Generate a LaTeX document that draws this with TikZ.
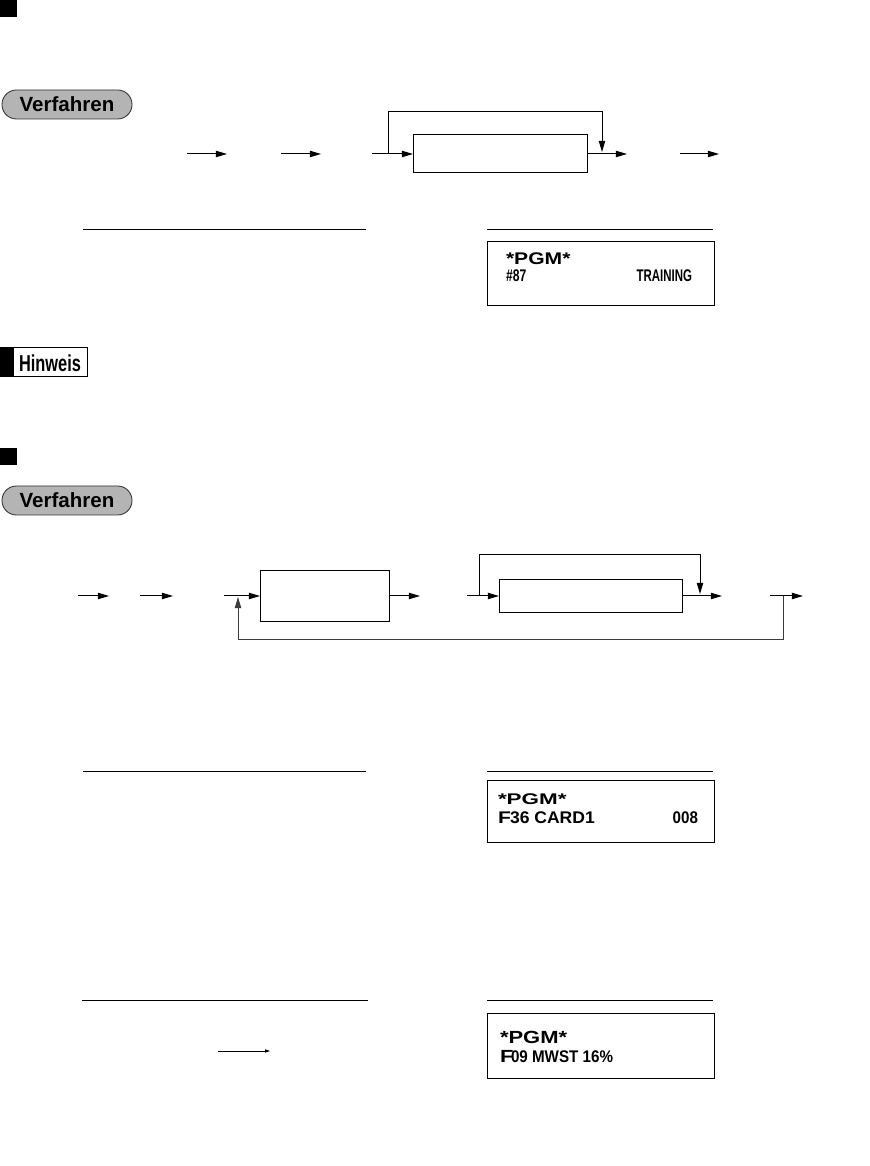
\documentclass[tikz,border=0pt]{standalone}
\usepackage{fontspec}
\setmainfont{Liberation Sans}
\usetikzlibrary{arrows.meta}

\definecolor{pgmInk}{RGB}{0,0,0}
\definecolor{pgmPill}{RGB}{180,180,180}
\definecolor{pgmEdge}{RGB}{50,50,50}
\definecolor{pgmBack}{RGB}{60,60,60}

\newcommand{\lcdwide}[2]{\scalebox{#1}[1]{\fontsize{12}{13}\selectfont\bfseries #2}}
\newcommand{\lcdhead}[3]{\scalebox{#1}[1]{\fontsize{#2}{13}\selectfont\bfseries #3}}

\begin{document}
\begin{tikzpicture}[x=0.25mm,y=0.25mm,inner sep=0pt,outer sep=0pt,line width=0.7pt,
  flow/.style={-{Triangle[length=2.8mm,width=1.6mm]}},
  thinflow/.style={line width=0.5pt,-{Triangle[length=1.2mm,width=0.8mm]}},
  pill/.style={draw=pgmEdge,fill=pgmPill,line width=0.6pt,rounded corners=3.6mm,minimum width=32.5mm,minimum height=7.25mm,font=\fontsize{14.6}{16}\selectfont\bfseries},
  keybox/.style={draw,rectangle},
  lcdbox/.style={draw,rectangle,minimum width=56.75mm}]
\useasboundingbox (0,0) rectangle (870,1166);

% first section
\fill[pgmInk] (0,1149) rectangle (17,1166);
\node[pill] (procA) at (67,1061.5) {Verfahren};

\coordinate (r1a) at (187,1012); \coordinate (r1b) at (227,1012);
\coordinate (r1c) at (281,1012); \coordinate (r1d) at (321,1012);
\coordinate (r1in) at (372,1012); \coordinate (r1fork) at (388,1012);
\coordinate (r1out) at (627,1012); \coordinate (r1join) at (602,1014);
\coordinate (r1e) at (680,1012); \coordinate (r1f) at (719,1012);
\node[keybox,minimum width=43.5mm,minimum height=9.5mm] (r1box) at (500,1012) {};
\draw[flow] (r1a) -- (r1b);
\draw[flow] (r1c) -- (r1d);
\draw[flow] (r1in) -- (r1box.west);
\draw[flow] (r1fork) -- ++(0,42) -| (r1join);
\draw[flow] (r1box.east) -- (r1out);
\draw[flow] (r1e) -- (r1f);

\coordinate (ruleAl) at (83,936); \coordinate (ruleAr) at (366,936);
\coordinate (ruleBl) at (487,936); \coordinate (ruleBr) at (713,936);
\draw (ruleAl) -- (ruleAr);
\draw (ruleBl) -- (ruleBr);
\node[lcdbox,minimum height=16mm] (lcdA) at (600.5,892) {};
\node[anchor=base west] (pgmA) at (506,901) {\lcdhead{1.25}{12}{*PGM*}};
\node[anchor=base west] (lineAl) at (506,884) {\lcdwide{0.72}{\#87}};
\node[anchor=base east] (lineAr) at (692,884) {\lcdwide{0.68}{TRAINING}};

% note
\node[draw,minimum width=21.75mm,minimum height=7.25mm] (note) at (43.5,803.5) {};
\fill[pgmInk] (note.north west) rectangle ++(3.5mm,-7.25mm);
\node[anchor=base] (noteText) at (50,794) {\scalebox{0.71}[1]{\fontsize{16.4}{18}\selectfont\bfseries Hinweis}};

% second section
\fill[pgmInk] (0,701) rectangle (17,718);
\node[pill] (procB) at (67,665.5) {Verfahren};

\coordinate (r2a) at (78,570); \coordinate (r2b) at (109,570);
\coordinate (r2c) at (140,570); \coordinate (r2d) at (173,570);
\coordinate (r2in) at (224,570); \coordinate (r2join) at (238,569);
\coordinate (r2mid) at (420,570);
\coordinate (r2in2) at (467,570); \coordinate (r2skip) at (479,570);
\coordinate (r2land) at (700,572); \coordinate (r2out) at (722,570);
\coordinate (r2e) at (770,570); \coordinate (r2f) at (803,570);
\coordinate (r2fork) at (783,570);
\node[keybox,minimum width=32.25mm,minimum height=12.5mm] (r2boxA) at (324.5,570) {};
\node[keybox,minimum width=45.75mm,minimum height=8.25mm] (r2boxB) at (590.5,570) {};
\draw[flow] (r2a) -- (r2b);
\draw[flow] (r2c) -- (r2d);
\draw[flow] (r2in) -- (r2boxA.west);
\draw[flow] (r2boxA.east) -- (r2mid);
\draw[flow] (r2in2) -- (r2boxB.west);
\draw[flow] (r2skip) -- ++(0,41) -| (r2land);
\draw[flow] (r2boxB.east) -- (r2out);
\draw[flow] (r2e) -- (r2f);
\draw[flow,draw=pgmBack] (r2fork) -- ++(0,-43) -| (r2join);

\coordinate (ruleCl) at (83,395); \coordinate (ruleCr) at (366,395);
\coordinate (ruleDl) at (487,395); \coordinate (ruleDr) at (713,395);
\draw (ruleCl) -- (ruleCr);
\draw (ruleDl) -- (ruleDr);
\node[lcdbox,minimum height=15.5mm] (lcdB) at (600.5,355) {};
\node[anchor=base west] (pgmB) at (498,361) {\lcdhead{1.45}{11}{*PGM*}};
\node[anchor=base west] (fB) at (498,342) {\lcdhead{1.25}{12}{F}};
\node[anchor=base west] (lineBl) at (510,342) {\lcdwide{1.04}{36 CARD1}};
\node[anchor=base east] (lineBr) at (698,342) {\lcdwide{0.9}{008}};

\coordinate (ruleEl) at (82,166); \coordinate (ruleEr) at (368,166);
\coordinate (ruleFl) at (487,166); \coordinate (ruleFr) at (713,166);
\draw (ruleEl) -- (ruleEr);
\draw (ruleFl) -- (ruleFr);
\coordinate (r3a) at (218,115); \coordinate (r3b) at (270,115);
\draw[thinflow] (r3a) -- (r3b);
\node[lcdbox,minimum height=16.25mm] (lcdC) at (600.5,120.5) {};
\node[anchor=base west] (pgmC) at (500,122) {\lcdhead{1.25}{12.5}{*PGM*}};
\node[anchor=base west] (fC) at (500,103) {\lcdhead{1.25}{12.5}{F}};
\node[anchor=base west] (lineC) at (511,103) {\lcdwide{0.9}{09 MWST 16\%}};
\end{tikzpicture}
\end{document}
